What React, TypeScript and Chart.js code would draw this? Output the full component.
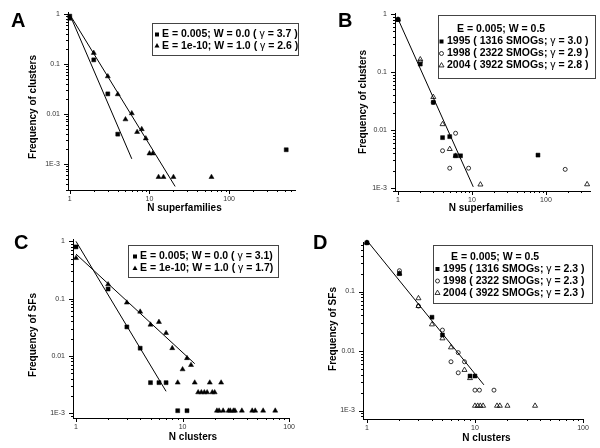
import React, { useEffect, useRef } from 'react';
import { Chart, registerables } from 'chart.js';

Chart.register(...registerables);

const FONT = '"Liberation Sans", Arial, Helvetica, sans-serif';

// ---------- Panel A ----------
const aSqX = [1, 2, 3, 4, 520];
const aSqY = [0.9, 0.12, 0.025, 0.0039, 0.0019];
const aTriX = [1, 2, 3, 4, 5, 6, 7, 8, 9, 10, 11, 13, 15, 20, 60];
const aTriY = [0.8, 0.165, 0.056, 0.0245, 0.0077, 0.0102, 0.0043, 0.0049, 0.0032, 0.0016, 0.0016, 0.00054, 0.00054, 0.00054, 0.00054];
const aFitSqX = [1, 6];
const aFitSqY = [0.97, 0.00125];
const aFitTriX = [1, 21];
const aFitTriY = [0.97, 0.00035];

// ---------- Panel B ----------
const bSqX = [1, 2, 3, 4, 5, 6, 7, 78];
const bSqY = [0.8, 0.137, 0.03, 0.0074, 0.0077, 0.0036, 0.0036, 0.0037];
const bCirX = [1, 2, 3, 4, 5, 6, 9, 182];
const bCirY = [0.8, 0.15, 0.03, 0.0044, 0.0022, 0.0088, 0.0022, 0.0021];
const bTriX = [1, 2, 3, 4, 5, 6, 13, 360];
const bTriY = [0.8, 0.165, 0.037, 0.0126, 0.0047, 0.0036, 0.00115, 0.00116];
const bFitX = [1, 10.4];
const bFitY = [0.82, 0.00105];

// ---------- Panel C ----------
const cSqX = [1, 2, 3, 4, 5, 6, 7, 9, 11];
const cSqY = [0.8, 0.147, 0.032, 0.0136, 0.0034, 0.0034, 0.0034, 0.0011, 0.0011];
const cTriX = [1, 2, 3, 4, 5, 6, 7, 8, 9, 10, 11, 12, 13, 14, 15, 16, 17, 18, 19, 20, 21, 22, 23, 24, 27, 28, 30, 31, 36, 45, 48, 57, 74];
const cTriY = [0.51, 0.177, 0.085, 0.059, 0.035, 0.039, 0.025, 0.0136, 0.0034, 0.0058, 0.0091, 0.0069, 0.0034, 0.0023, 0.0023, 0.0023, 0.0023, 0.0034, 0.0023, 0.0023, 0.0011, 0.0011, 0.0034, 0.0011, 0.0011, 0.0011, 0.0011, 0.0011, 0.0011, 0.0011, 0.0011, 0.0011, 0.0011];
const cFitSqX = [1, 7];
const cFitSqY = [1.0, 0.0024];
const cFitTriX = [1, 13];
const cFitTriY = [0.6, 0.0073];

// ---------- Panel D ----------
const dSqX = [1, 2, 4, 5, 9, 10];
const dSqY = [0.66, 0.2, 0.037, 0.0186, 0.0038, 0.0038];
const dCirX = [1, 2, 3, 5, 6, 7, 7, 8, 10, 11, 15];
const dCirY = [0.66, 0.224, 0.057, 0.0225, 0.0066, 0.0094, 0.0043, 0.0066, 0.0022, 0.0022, 0.0022];
const dTriX = [1, 2, 3, 3, 4, 5, 6, 8, 9, 10, 10.6, 11.2, 11.9, 16, 17, 20, 36];
const dTriY = [0.66, 0.2, 0.077, 0.057, 0.028, 0.0163, 0.0115, 0.0048, 0.0035, 0.0012, 0.0012, 0.0012, 0.0012, 0.0012, 0.0012, 0.0012, 0.0012];
const dFitX = [1, 12.1];
const dFitY = [0.72, 0.0027];

// legend texts
const legA = ['E = 0.005; W = 0.0 ( γ = 3.7 )', 'E = 1e-10; W = 1.0 ( γ = 2.6 )'];
const legB = ['E = 0.005; W = 0.5', '1995 ( 1316 SMOGs; γ = 3.0 )', '1998 ( 2322 SMOGs; γ = 2.9 )', '2004 ( 3922 SMOGs; γ = 2.8 )'];
const legC = ['E = 0.005; W = 0.0 ( γ = 3.1)', 'E = 1e-10; W = 1.0 ( γ = 1.7)'];
const legD = ['E = 0.005; W = 0.5', '1995 ( 1316 SMOGs; γ = 2.3 )', '1998 ( 2322 SMOGs; γ = 2.3 )', '2004 ( 3922 SMOGs; γ = 2.3 )'];

type Marker = 'sq' | 'tri' | 'circ' | 'otri';

const pts = (xs: number[], ys: number[]) => xs.map((x, i) => ({ x, y: ys[i] }));

const isPow10 = (v: number) => {
  const l = Math.log10(v);
  return Math.abs(l - Math.round(l)) < 1e-7;
};

const fmt = (v: number) => {
  const e = Math.round(Math.log10(v));
  if (e >= 0) return String(Math.round(Math.pow(10, e)));
  if (e >= -2) return Math.pow(10, e).toFixed(-e);
  return '1E' + e;
};

function logTicks(min: number, max: number) {
  const out: { value: number; major: boolean }[] = [];
  const e0 = Math.floor(Math.log10(min));
  const e1 = Math.ceil(Math.log10(max));
  for (let e = e0; e <= e1; e++) {
    for (let m = 1; m <= 9; m++) {
      const v = parseFloat((m * Math.pow(10, e)).toPrecision(8));
      if (v >= min * (1 - 1e-9) && v <= max * (1 + 1e-9)) out.push({ value: v, major: m === 1 });
    }
  }
  return out;
}

function styleFor(m: Marker) {
  switch (m) {
    case 'sq':
      return { pointStyle: 'rect', pointRadius: 2.8, backgroundColor: '#000', borderColor: '#000', borderWidth: 0.5 };
    case 'tri':
      return { pointStyle: 'triangle', pointRadius: 2.9, backgroundColor: '#000', borderColor: '#000', borderWidth: 0.5 };
    case 'circ':
      return { pointStyle: 'circle', pointRadius: 2, backgroundColor: 'rgba(0,0,0,0)', borderColor: '#000', borderWidth: 0.8 };
    default:
      return { pointStyle: 'triangle', pointRadius: 2.9, backgroundColor: 'rgba(0,0,0,0)', borderColor: '#000', borderWidth: 0.8 };
  }
}

function drawMarker(ctx: CanvasRenderingContext2D, m: Marker, x: number, y: number) {
  ctx.save();
  ctx.fillStyle = '#000';
  ctx.strokeStyle = '#000';
  ctx.lineWidth = 0.8;
  if (m === 'sq') {
    ctx.fillRect(x - 2, y - 2, 4, 4);
  } else if (m === 'circ') {
    ctx.beginPath();
    ctx.arc(x, y, 2, 0, Math.PI * 2);
    ctx.stroke();
  } else {
    const r = 2.9;
    ctx.beginPath();
    ctx.moveTo(x, y - r);
    ctx.lineTo(x + r * 0.866, y + r * 0.5);
    ctx.lineTo(x - r * 0.866, y + r * 0.5);
    ctx.closePath();
    if (m === 'tri') ctx.fill();
    else ctx.stroke();
  }
  ctx.restore();
}

function drawRich(ctx: CanvasRenderingContext2D, text: string, x: number, y: number, size: number) {
  const parts = text.split('γ');
  let cx = x;
  ctx.textBaseline = 'middle';
  ctx.textAlign = 'left';
  ctx.fillStyle = '#000';
  parts.forEach((p, i) => {
    ctx.font = `bold ${size}px ${FONT}`;
    ctx.fillText(p, cx, y);
    cx += ctx.measureText(p).width;
    if (i < parts.length - 1) {
      ctx.font = `${size}px ${FONT}`;
      ctx.fillText('γ', cx, y);
      cx += ctx.measureText('γ').width;
    }
  });
}

interface Row { marker?: Marker; text: string; y: number; tx: number }
interface PanelCfg {
  letter: string;
  letterPos: [number, number];
  left: number;
  top: number;
  series: { x: number[]; y: number[]; m: Marker }[];
  fits: { x: number[]; y: number[] }[];
  xMin: number; xMax: number; yMin: number; yMax: number;
  xTitle: string; yTitle: string;
  xTitlePos: [number, number];
  yTitlePos: [number, number];
  pad: { left: number; right: number; top: number; bottom: number };
  yWidth: number; xHeight: number;
  box: { x: number; y: number; w: number; h: number };
  markerX: number;
  rows: Row[];
}

function panelPlugin(cfg: PanelCfg) {
  return {
    id: 'panelDeco' + cfg.letter,
    afterDraw(chart: any) {
      const ctx: CanvasRenderingContext2D = chart.ctx;
      const xs = chart.scales.x;
      const ys = chart.scales.y;
      const area = chart.chartArea;
      ctx.save();
      ctx.strokeStyle = '#000';
      ctx.lineWidth = 1;
      ys.ticks.forEach((t: any) => {
        const p = Math.round(ys.getPixelForValue(t.value)) + 0.5;
        const len = t.major ? 4 : 2;
        ctx.beginPath();
        ctx.moveTo(area.left - len, p);
        ctx.lineTo(area.left, p);
        ctx.stroke();
      });
      xs.ticks.forEach((t: any) => {
        const p = Math.round(xs.getPixelForValue(t.value)) + 0.5;
        const len = t.major ? 4 : 2;
        ctx.beginPath();
        ctx.moveTo(p, area.bottom);
        ctx.lineTo(p, area.bottom + len);
        ctx.stroke();
      });
      // axis titles
      ctx.fillStyle = '#000';
      ctx.font = `bold 10px ${FONT}`;
      ctx.textAlign = 'center';
      ctx.textBaseline = 'middle';
      ctx.fillText(cfg.xTitle, cfg.xTitlePos[0], cfg.xTitlePos[1]);
      ctx.save();
      ctx.translate(cfg.yTitlePos[0], cfg.yTitlePos[1]);
      ctx.rotate(-Math.PI / 2);
      ctx.fillText(cfg.yTitle, 0, 0);
      ctx.restore();
      // legend box
      ctx.strokeStyle = '#444';
      ctx.lineWidth = 1;
      ctx.strokeRect(cfg.box.x + 0.5, cfg.box.y + 0.5, cfg.box.w, cfg.box.h);
      cfg.rows.forEach((r) => {
        if (r.marker) drawMarker(ctx, r.marker, cfg.markerX, r.y);
        drawRich(ctx, r.text, r.tx, r.y, 10.5);
      });
      // panel letter
      ctx.font = `bold 20px ${FONT}`;
      ctx.textBaseline = 'alphabetic';
      ctx.textAlign = 'left';
      ctx.fillStyle = '#000';
      ctx.fillText(cfg.letter, cfg.letterPos[0], cfg.letterPos[1]);
      ctx.restore();
    },
  };
}

function buildConfig(cfg: PanelCfg): any {
  const tickFont = { size: 7, family: FONT };
  const datasets: any[] = [
    ...cfg.series.map((s) => ({
      data: pts(s.x, s.y),
      showLine: false,
      clip: false,
      ...styleFor(s.m),
    })),
    ...cfg.fits.map((f) => ({
      data: pts(f.x, f.y),
      showLine: true,
      pointRadius: 0,
      borderColor: '#000',
      borderWidth: 1,
      backgroundColor: '#000',
      fill: false,
      clip: false,
    })),
  ];
  return {
    type: 'scatter',
    data: { datasets },
    options: {
      responsive: false,
      animation: false,
      devicePixelRatio: 1,
      events: [],
      layout: { padding: cfg.pad },
      plugins: { legend: { display: false }, tooltip: { enabled: false } },
      scales: {
        x: {
          type: 'logarithmic',
          position: 'bottom',
          min: cfg.xMin,
          max: cfg.xMax,
          grid: { display: false, drawTicks: false },
          border: { display: true, color: '#000', width: 1 },
          ticks: {
            autoSkip: false,
            maxRotation: 0,
            minRotation: 0,
            padding: 5,
            color: '#333',
            font: tickFont,
            callback: (v: number) => (isPow10(v) ? fmt(v) : ''),
          },
          title: { display: false },
          afterBuildTicks: (s: any) => {
            s.ticks = logTicks(s.min, s.max);
          },
          afterFit: (s: any) => {
            s.height = cfg.xHeight;
          },
        },
        y: {
          type: 'logarithmic',
          position: 'left',
          min: cfg.yMin,
          max: cfg.yMax,
          grid: { display: false, drawTicks: false },
          border: { display: true, color: '#000', width: 1 },
          ticks: {
            autoSkip: false,
            padding: 8,
            color: '#333',
            font: tickFont,
            callback: (v: number) => (isPow10(v) ? fmt(v) : ''),
          },
          title: { display: false },
          afterBuildTicks: (s: any) => {
            s.ticks = logTicks(s.min, s.max);
          },
          afterFit: (s: any) => {
            s.width = cfg.yWidth;
          },
        },
      },
    },
    plugins: [panelPlugin(cfg)],
  };
}

const panels: PanelCfg[] = [
  {
    letter: 'A', letterPos: [11, 27], left: 0, top: 0,
    series: [{ x: aSqX, y: aSqY, m: 'sq' }, { x: aTriX, y: aTriY, m: 'tri' }],
    fits: [{ x: aFitSqX, y: aFitSqY }, { x: aFitTriX, y: aFitTriY }],
    xMin: 0.95, xMax: 680, yMin: 0.000297, yMax: 1.08,
    xTitle: 'N superfamilies', yTitle: 'Frequency of clusters',
    xTitlePos: [184.5, 208.5], yTitlePos: [33, 107],
    pad: { left: 27, right: 4, top: 12, bottom: 9 }, yWidth: 41, xHeight: 25,
    box: { x: 152, y: 23, w: 146, h: 32 }, markerX: 157,
    rows: [
      { marker: 'sq', text: legA[0], y: 34.5, tx: 162 },
      { marker: 'tri', text: legA[1], y: 46, tx: 162 },
    ],
  },
  {
    letter: 'B', letterPos: [38, 27], left: 300, top: 0,
    series: [{ x: bSqX, y: bSqY, m: 'sq' }, { x: bCirX, y: bCirY, m: 'circ' }, { x: bTriX, y: bTriY, m: 'otri' }],
    fits: [{ x: bFitX, y: bFitY }],
    xMin: 0.91, xMax: 394, yMin: 0.00089, yMax: 1.04,
    xTitle: 'N superfamilies', yTitle: 'Frequency of clusters',
    xTitlePos: [186, 208.5], yTitlePos: [63, 102],
    pad: { left: 57, right: 10, top: 13, bottom: 9 }, yWidth: 38, xHeight: 24,
    box: { x: 138, y: 15, w: 157, h: 63 }, markerX: 141.5,
    rows: [
      { text: legB[0], y: 29.5, tx: 157 },
      { marker: 'sq', text: legB[1], y: 41.5, tx: 147 },
      { marker: 'circ', text: legB[2], y: 53.5, tx: 147 },
      { marker: 'otri', text: legB[3], y: 65.5, tx: 147 },
    ],
  },
  {
    letter: 'C', letterPos: [14, 25], left: 0, top: 224,
    series: [{ x: cSqX, y: cSqY, m: 'sq' }, { x: cTriX, y: cTriY, m: 'tri' }],
    fits: [{ x: cFitSqX, y: cFitSqY }, { x: cFitTriX, y: cFitTriY }],
    xMin: 0.937, xMax: 100, yMin: 0.00082, yMax: 1.1,
    xTitle: 'N clusters', yTitle: 'Frequency of SFs',
    xTitlePos: [193, 213], yTitlePos: [33, 111],
    pad: { left: 27, right: 10, top: 15, bottom: 5 }, yWidth: 46, xHeight: 25,
    box: { x: 128, y: 21, w: 150, h: 32 }, markerX: 135,
    rows: [
      { marker: 'sq', text: legC[0], y: 32.5, tx: 140 },
      { marker: 'tri', text: legC[1], y: 44.5, tx: 140 },
    ],
  },
  {
    letter: 'D', letterPos: [13, 25], left: 300, top: 224,
    series: [{ x: dSqX, y: dSqY, m: 'sq' }, { x: dCirX, y: dCirY, m: 'circ' }, { x: dTriX, y: dTriY, m: 'otri' }],
    fits: [{ x: dFitX, y: dFitY }],
    xMin: 0.92, xMax: 100, yMin: 0.00072, yMax: 0.68,
    xTitle: 'N clusters', yTitle: 'Frequency of SFs',
    xTitlePos: [186.5, 214], yTitlePos: [33, 105],
    pad: { left: 27, right: 17, top: 18, bottom: 4 }, yWidth: 36, xHeight: 25,
    box: { x: 133, y: 21, w: 159, h: 58 }, markerX: 137.5,
    rows: [
      { text: legD[0], y: 33, tx: 151 },
      { marker: 'sq', text: legD[1], y: 45, tx: 143 },
      { marker: 'circ', text: legD[2], y: 57, tx: 143 },
      { marker: 'otri', text: legD[3], y: 69, tx: 143 },
    ],
  },
];

function Panel({ cfg }: { cfg: PanelCfg }) {
  const ref = useRef<HTMLCanvasElement | null>(null);
  useEffect(() => {
    if (!ref.current) return;
    const chart = new Chart(ref.current, buildConfig(cfg));
    return () => chart.destroy();
  }, [cfg]);
  return (
    <canvas
      ref={ref}
      width={300}
      height={224}
      style={{ position: 'absolute', left: cfg.left, top: cfg.top, width: 300, height: 224, display: 'block' }}
    />
  );
}

export default function App() {
  return (
    <div style={{ position: 'absolute', left: 0, top: 0, width: 600, height: 448, background: '#fff', overflow: 'hidden' }}>
      {panels.map((p) => (
        <Panel key={p.letter} cfg={p} />
      ))}
    </div>
  );
}
